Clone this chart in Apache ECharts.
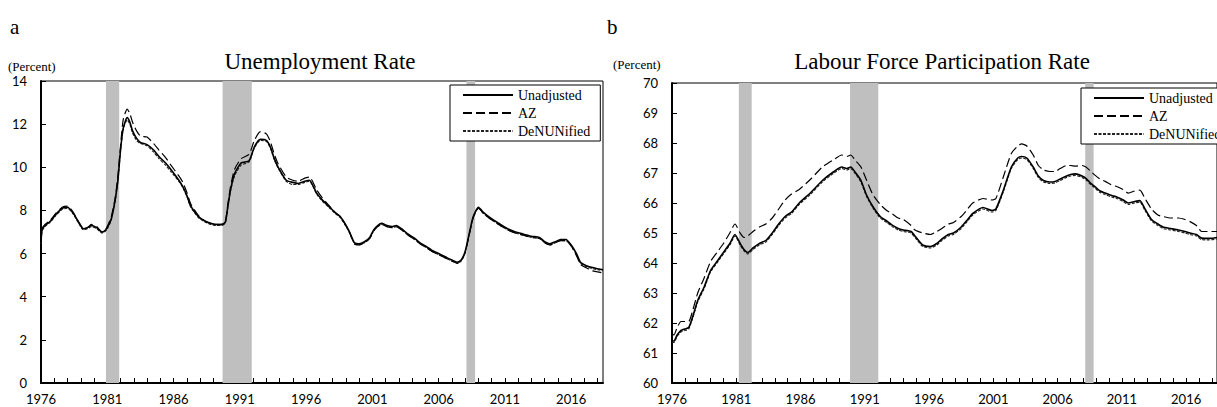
<!DOCTYPE html>
<html><head><meta charset="utf-8">
<script src="https://cdn.jsdelivr.net/npm/echarts@6/dist/echarts.min.js"></script>
<style>html,body{margin:0;padding:0;background:#fff}#c{width:1217px;height:407px}</style>
</head><body><div id="c"></div>
<script>
const X0 = 1976;
const seriesNames = ['Unadjusted', 'AZ', 'DeNUNified'];

// Panel a: Unemployment Rate (percent)
const urYears = [1976.0,1976.08,1976.3,1976.7,1977.1,1977.6,1978.0,1978.4,1978.8,1979.2,
  1979.5,1979.8,1980.2,1980.6,1980.8,1981.0,1981.3,1981.6,1981.8,1982.0,
  1982.2,1982.5,1982.7,1982.9,1983.2,1983.5,1984.0,1984.5,1984.9,1985.4,
  1985.8,1986.4,1986.7,1987.0,1987.3,1987.9,1988.4,1988.8,1989.2,1989.6,
  1989.9,1990.1,1990.3,1990.6,1991.1,1991.7,1992.1,1992.55,1993.0,1993.3,
  1993.6,1993.9,1994.5,1995.0,1995.4,1995.9,1996.25,1996.8,1997.2,1997.7,
  1998.2,1998.6,1999.2,1999.65,2000.0,2000.4,2000.8,2001.1,2001.4,2001.7,
  2002.1,2002.5,2002.8,2003.2,2003.7,2004.2,2004.6,2005.0,2005.5,2006.0,
  2006.5,2007.0,2007.4,2007.7,2008.0,2008.3,2008.6,2009.0,2009.4,2009.8,
  2010.4,2011.2,2011.8,2012.4,2013.0,2013.6,2014.0,2014.4,2014.8,2015.2,
  2015.6,2016.0,2016.4,2016.7,2017.1,2017.6,2018.0,2018.4];
const urUnadjusted = [6.5,7.1,7.3,7.5,7.8,8.1,8.15,7.9,7.5,7.15,
  7.2,7.3,7.2,7.0,7.05,7.2,7.6,8.5,9.4,10.8,
  11.8,12.3,12.1,11.7,11.35,11.15,11.05,10.8,10.5,10.2,
  9.9,9.4,9.1,8.7,8.2,7.7,7.5,7.4,7.35,7.35,
  7.45,8.2,8.95,9.7,10.2,10.3,10.95,11.3,11.25,10.95,
  10.4,10.0,9.4,9.3,9.25,9.35,9.4,8.8,8.5,8.2,
  7.9,7.7,7.1,6.5,6.45,6.55,6.75,7.1,7.3,7.4,
  7.3,7.25,7.3,7.15,6.9,6.7,6.5,6.35,6.15,6.0,
  5.85,5.7,5.6,5.7,6.1,6.9,7.7,8.15,7.9,7.7,
  7.45,7.15,7.0,6.9,6.8,6.75,6.55,6.45,6.55,6.65,
  6.65,6.4,6.0,5.6,5.45,5.35,5.3,5.25];
const urAZ = [6.55,7.15,7.35,7.55,7.85,8.15,8.2,7.95,7.5,7.15,
  7.2,7.35,7.25,7.0,7.05,7.25,7.7,8.6,9.6,11.0,
  12.2,12.7,12.5,12.1,11.7,11.45,11.4,11.1,10.8,10.45,
  10.1,9.6,9.3,8.85,8.3,7.75,7.5,7.4,7.35,7.35,
  7.45,8.3,9.1,9.9,10.4,10.6,11.25,11.65,11.55,11.2,
  10.6,10.15,9.55,9.4,9.35,9.5,9.55,8.95,8.6,8.25,
  7.9,7.7,7.1,6.45,6.4,6.5,6.7,7.05,7.25,7.35,
  7.25,7.2,7.25,7.1,6.85,6.65,6.45,6.3,6.1,5.95,
  5.8,5.65,5.55,5.65,6.05,6.85,7.65,8.1,7.85,7.65,
  7.4,7.1,6.95,6.85,6.75,6.7,6.5,6.4,6.5,6.6,
  6.6,6.35,5.9,5.5,5.35,5.2,5.15,5.1];
const urDeNUNified = [6.45,7.05,7.25,7.45,7.75,8.05,8.1,7.85,7.45,7.1,
  7.15,7.25,7.15,6.95,7.0,7.15,7.55,8.45,9.35,10.75,
  11.75,12.2,12.0,11.6,11.25,11.1,11.0,10.7,10.4,10.1,
  9.8,9.35,9.05,8.65,8.15,7.65,7.45,7.35,7.3,7.3,
  7.4,8.15,8.9,9.6,10.1,10.25,10.9,11.25,11.2,10.9,
  10.35,9.95,9.35,9.2,9.2,9.3,9.35,8.75,8.45,8.15,
  7.85,7.65,7.05,6.45,6.4,6.5,6.7,7.05,7.25,7.35,
  7.25,7.2,7.25,7.1,6.85,6.65,6.45,6.3,6.1,5.95,
  5.8,5.65,5.55,5.65,6.05,6.85,7.65,8.1,7.85,7.65,
  7.4,7.1,6.95,6.85,6.75,6.7,6.5,6.4,6.5,6.6,
  6.6,6.35,5.95,5.55,5.4,5.3,5.25,5.2];

// Panel b: Labour Force Participation Rate (percent)
const lfpYears = [1976.0,1976.15,1976.4,1976.7,1977.0,1977.3,1977.6,1978.0,1978.5,1979.0,
  1979.5,1980.0,1980.5,1980.9,1981.3,1981.6,1981.9,1982.3,1982.8,1983.3,
  1983.8,1984.3,1984.8,1985.3,1985.9,1986.8,1987.7,1988.6,1989.2,1989.6,
  1989.9,1990.3,1990.7,1991.1,1991.6,1992.2,1992.7,1993.1,1993.6,1994.0,
  1994.6,1994.9,1995.5,1996.1,1996.6,1997.0,1997.5,1997.9,1998.5,1999.0,
  1999.4,2000.2,2000.9,2001.2,2001.8,2002.4,2002.9,2003.2,2003.6,2004.1,
  2004.5,2004.9,2005.4,2005.8,2006.2,2006.7,2007.0,2007.4,2007.9,2008.2,
  2008.6,2008.9,2009.3,2009.7,2010.2,2010.6,2011.1,2011.5,2012.0,2012.4,
  2012.8,2013.3,2013.8,2014.2,2014.8,2015.4,2015.9,2016.3,2016.8,2017.2,
  2017.8,2018.4];
const lfpUnadjusted = [61.4,61.4,61.6,61.75,61.8,61.85,62.2,62.75,63.2,63.75,
  64.05,64.35,64.65,64.95,64.65,64.45,64.35,64.5,64.65,64.75,
  65.0,65.3,65.55,65.7,66.0,66.35,66.75,67.05,67.2,67.15,
  67.2,67.0,66.75,66.3,65.9,65.55,65.4,65.27,65.15,65.1,
  65.05,64.9,64.6,64.55,64.65,64.8,64.95,65.0,65.2,65.45,
  65.65,65.85,65.75,65.8,66.45,67.2,67.5,67.55,67.5,67.2,
  66.9,66.75,66.7,66.72,66.8,66.9,66.95,66.97,66.9,66.82,
  66.65,66.55,66.4,66.33,66.25,66.2,66.1,66.0,66.05,66.08,
  65.8,65.45,65.3,65.2,65.15,65.1,65.05,65.0,64.95,64.83,
  64.82,64.85];
const lfpAZ = [61.65,61.6,61.85,62.05,62.05,62.05,62.4,63.0,63.5,64.05,
  64.35,64.65,65.0,65.3,65.0,64.85,64.9,65.05,65.2,65.3,
  65.5,65.8,66.1,66.3,66.45,66.8,67.2,67.45,67.6,67.55,
  67.6,67.4,67.2,66.8,66.3,65.95,65.75,65.65,65.5,65.45,
  65.25,65.1,65.0,64.95,65.05,65.15,65.3,65.35,65.55,65.8,
  66.0,66.15,66.1,66.15,66.9,67.65,67.9,67.97,67.9,67.6,
  67.25,67.1,67.05,67.05,67.15,67.25,67.25,67.23,67.25,67.2,
  67.05,66.93,66.8,66.72,66.6,66.55,66.45,66.33,66.4,66.43,
  66.15,65.8,65.6,65.55,65.5,65.5,65.45,65.38,65.25,65.05,
  65.05,65.05];
const lfpDeNUNified = [61.35,61.35,61.55,61.7,61.75,61.8,62.15,62.7,63.15,63.7,
  64.0,64.3,64.6,64.9,64.6,64.4,64.3,64.45,64.6,64.7,
  64.95,65.25,65.5,65.65,65.95,66.3,66.7,67.0,67.15,67.1,
  67.15,66.95,66.7,66.25,65.85,65.5,65.35,65.22,65.1,65.05,
  65.0,64.85,64.55,64.5,64.6,64.75,64.9,64.95,65.15,65.4,
  65.6,65.8,65.7,65.75,66.4,67.15,67.45,67.5,67.45,67.15,
  66.85,66.7,66.65,66.67,66.75,66.85,66.9,66.92,66.85,66.77,
  66.6,66.5,66.35,66.28,66.2,66.15,66.05,65.95,66.0,66.03,
  65.75,65.4,65.25,65.15,65.1,65.05,65.0,64.95,64.9,64.78,
  64.77,64.8];

// Recession shading (start, end years)
const urRecessions = [[1980.9, 1981.9], [1989.7, 1991.9], [2008.1, 2008.75]];
const lfpRecessions = [[1981.2, 1982.2], [1989.85, 1992.05], [2008.15, 2008.8]];
const xMaxYear = 2018.4;

const serif = '"Liberation Serif", "Times New Roman", serif';
const sans = 'Lato, "Open Sans", sans-serif';
const lineStyles = [
  { type: 'solid', width: 1.6, color: '#000' },
  { type: [9, 4], width: 1.2, color: '#000' },
  { type: [3, 1.5], width: 1.1, color: '#222' }
];

function pairs(xs, ys) { return xs.map((x, i) => [x - X0, ys[i]]); }

function xAxisCfg(gi) {
  return {
    type: 'value', gridIndex: gi, min: 0, max: xMaxYear - X0, interval: 1,
    axisLine: { show: true, onZero: false, lineStyle: { color: '#000', width: 2 } },
    axisTick: { show: true, inside: true, length: 5, lineStyle: { color: '#000', width: 1 } },
    axisLabel: { color: '#000', fontFamily: sans, fontSize: 13, margin: 9, showMaxLabel: false,
      formatter: v => (Math.abs(v % 5) < 1e-6 ? String(X0 + Math.round(v)) : '') },
    splitLine: { show: false }
  };
}
function yAxisCfg(gi, min, max, interval) {
  return {
    type: 'value', gridIndex: gi, min, max, interval,
    axisLine: { show: true, onZero: false, lineStyle: { color: '#000', width: 2 } },
    axisTick: { show: true, inside: true, length: 5, lineStyle: { color: '#000', width: 1 } },
    axisLabel: { color: '#000', fontFamily: sans, fontSize: 13, margin: 14 },
    splitLine: { show: false }
  };
}
function panelSeries(gi, xs, sets, recessions) {
  const out = [{
    name: 'recession' + gi, type: 'line', xAxisIndex: gi, yAxisIndex: gi,
    data: pairs(xs, sets[0]), symbol: 'none', lineStyle: { opacity: 0 }, z: 1, silent: true,
    markArea: { silent: true, itemStyle: { color: '#bfbfbf', opacity: 1 },
      data: recessions.map(r => [{ xAxis: r[0] - X0 }, { xAxis: r[1] - X0 }]) }
  }];
  sets.forEach((vals, k) => {
    out.push({
      name: seriesNames[k], type: 'line', xAxisIndex: gi, yAxisIndex: gi,
      data: pairs(xs, vals), symbol: 'none', showSymbol: false, smooth: 0.2,
      lineStyle: lineStyles[k], itemStyle: { color: '#000' }, z: 5 - k, silent: true
    });
  });
  return out;
}
function legendCfg(left, top) {
  return {
    data: seriesNames, orient: 'vertical', left, top,
    itemWidth: 50, itemHeight: 14, itemGap: 4, padding: [3, 10, 3, 12],
    borderColor: '#000', borderWidth: 1, backgroundColor: '#fff', selectedMode: false,
    itemStyle: { opacity: 0 },
    textStyle: { fontFamily: serif, fontSize: 14, color: '#000' }
  };
}
function txt(text, x, y, size, align) {
  return { type: 'text', x, y, silent: true,
    style: { text, fontFamily: serif, fontSize: size, fill: '#000', textAlign: align || 'left', textVerticalAlign: 'middle' } };
}

const chart = echarts.init(document.getElementById('c'), null, { renderer: 'svg' });
chart.setOption({
  animation: false,
  backgroundColor: '#fff',
  grid: [
    { left: 41, top: 81, width: 562, height: 302, show: true, borderColor: '#000', borderWidth: 1 },
    { left: 672, top: 83, width: 555, height: 300, show: true, borderColor: '#000', borderWidth: 1 }
  ],
  xAxis: [xAxisCfg(0), xAxisCfg(1)],
  yAxis: [yAxisCfg(0, 0, 14, 2), yAxisCfg(1, 60, 70, 1)],
  legend: [legendCfg(450, 85), legendCfg(1081, 88)],
  series: [
    ...panelSeries(0, urYears, [urUnadjusted, urAZ, urDeNUNified], urRecessions),
    ...panelSeries(1, lfpYears, [lfpUnadjusted, lfpAZ, lfpDeNUNified], lfpRecessions)
  ],
  graphic: [
    txt('a', 10, 27, 21),
    txt('b', 607, 27, 21),
    txt('(Percent)', 8, 66, 13),
    txt('(Percent)', 613, 64, 13),
    txt('Unemployment Rate', 320, 61, 23, 'center'),
    txt('Labour Force Participation Rate', 942, 61, 23, 'center')
  ]
});
</script>
</body></html>
